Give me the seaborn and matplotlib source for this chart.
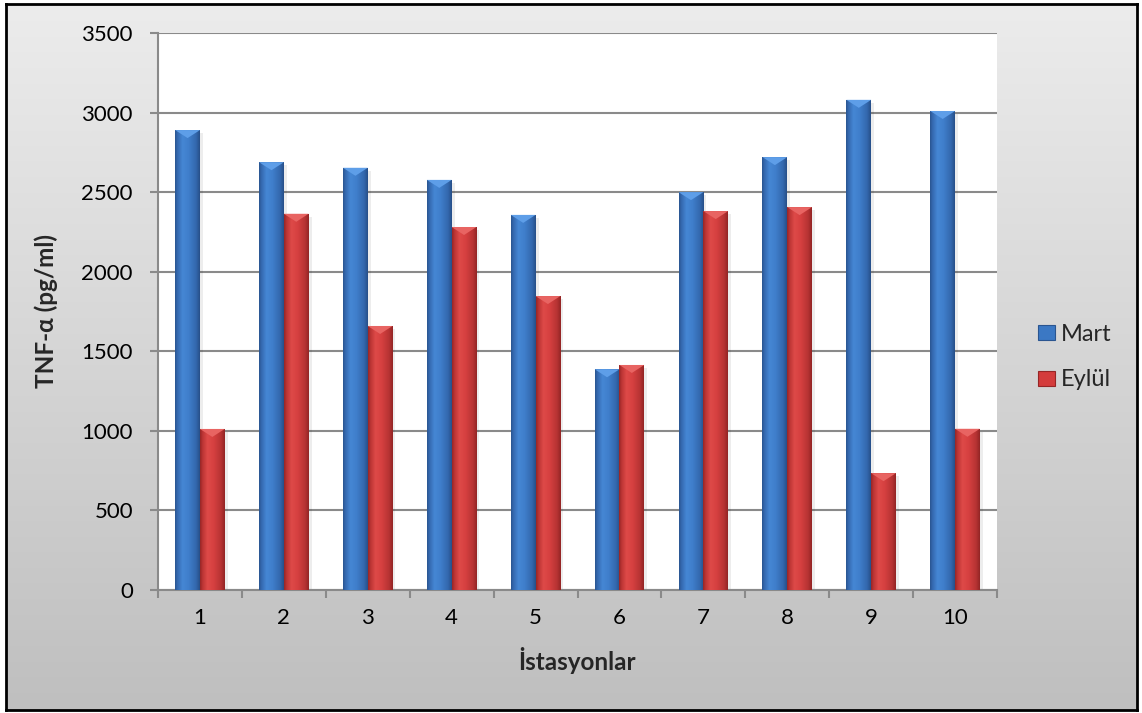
import numpy as np
import pandas as pd
import matplotlib
matplotlib.use("Agg")
import matplotlib.pyplot as plt
from matplotlib.colors import LinearSegmentedColormap
from matplotlib.patches import Polygon, Patch
import seaborn as sns

# TNF-α measurements per station, March vs September
stations = ["1", "2", "3", "4", "5", "6", "7", "8", "9", "10"]
months = ["Mart", "Eylül"]
mart = [2890, 2688, 2653, 2577, 2357, 1387, 2500, 2720, 3080, 3010]
eylul = [1012, 2364, 1659, 2281, 1847, 1414, 2381, 2406, 734, 1013]
y_ticks = [0, 500, 1000, 1500, 2000, 2500, 3000, 3500]

df = pd.DataFrame({
    "İstasyon": stations * 2,
    "Ay": [months[0]] * len(stations) + [months[1]] * len(stations),
    "TNF": mart + eylul,
})

sns.set_theme(style="white")
plt.rcParams["font.family"] = ["Lato", "DejaVu Sans"]

W, H = 1142, 713
fig = plt.figure(figsize=(W / 100, H / 100), dpi=100)
fig.patch.set_facecolor("white")

# Framed chart area with a soft vertical grey gradient
bg = fig.add_axes([6 / W, 1 - 710 / H, (1137 - 6) / W, (710 - 4) / H], zorder=0)
bg_grad = np.linspace(0, 1, 256).reshape(-1, 1)
bg_cmap = LinearSegmentedColormap.from_list("bg", ["#ececec", "#bfbfbf"])
bg.imshow(bg_grad, cmap=bg_cmap, aspect="auto", extent=[0, 1, 0, 1], origin="upper")
bg.set_xticks([]); bg.set_yticks([])
for s in bg.spines.values():
    s.set_color("black"); s.set_linewidth(2)

ax = fig.add_axes([158 / W, 1 - 590 / H, (997 - 158) / W, (590 - 33) / H], zorder=1)
ax.set_facecolor("white")

palette = {"Mart": "#3b78c4", "Eylül": "#d43c3c"}
sns.barplot(data=df, x="İstasyon", y="TNF", hue="Ay", hue_order=months,
            order=stations, palette=palette, width=0.59, linewidth=0,
            legend=False, ax=ax, zorder=3)

cmaps = {
    "Mart": LinearSegmentedColormap.from_list("blue_bar", [
        (0.0, "#2a5590"), (0.1, "#3569b0"), (0.3, "#4587d4"),
        (0.55, "#3f7ecb"), (0.85, "#3367ad"), (1.0, "#274f88")]),
    "Eylül": LinearSegmentedColormap.from_list("red_bar", [
        (0.0, "#962626"), (0.1, "#bb3434"), (0.3, "#de4a48"),
        (0.55, "#d64040"), (0.85, "#b63333"), (1.0, "#922525")]),
}
bevel = {"Mart": "#5e9ee8", "Eylül": "#e86462"}

y_per_px = 3500 / (590 - 33)
grad = np.linspace(0, 1, 128).reshape(1, -1)
for month, container in zip(months, ax.containers):
    for bar in container:
        x0, w, h = bar.get_x(), bar.get_width(), bar.get_height()
        # faint drop shadow to the right
        ax.add_patch(plt.Rectangle((x0 + w, 0), w * 0.12, h - 3 * y_per_px,
                                   facecolor="#000000", alpha=0.07, lw=0, zorder=2.5))
        im = ax.imshow(grad, cmap=cmaps[month], extent=[x0, x0 + w, 0, h],
                       aspect="auto", interpolation="bilinear", zorder=3.1)
        im.set_clip_path(bar)
        depth = 8 * y_per_px
        ax.add_patch(Polygon([(x0, h), (x0 + w, h), (x0 + w / 2, h - depth)],
                             closed=True, facecolor=bevel[month],
                             edgecolor="none", zorder=3.2))

ax.set_xlim(-0.5, len(stations) - 0.5)
ax.set_ylim(y_ticks[0], y_ticks[-1])
ax.set_yticks(y_ticks)
ax.set_yticklabels([str(v) for v in y_ticks])
ax.yaxis.grid(True, color="#8a8a8a", linewidth=1.5, zorder=0)
ax.set_axisbelow(True)

ax.set_xticks(range(len(stations)))
ax.set_xticklabels(stations)
ax.set_xticks(np.arange(-0.5, len(stations), 1.0), minor=True)
ax.tick_params(axis="x", which="major", length=0, pad=13, labelsize=16, colors="black")
ax.tick_params(axis="x", which="minor", length=6, width=1.5, color="#8a8a8a", direction="out", bottom=True)
ax.tick_params(axis="y", which="major", length=6, width=1.5, color="#8a8a8a", pad=12,
               labelsize=16, labelcolor="black", direction="out", left=True)

for side in ["top", "right"]:
    ax.spines[side].set_visible(False)
for side in ["left", "bottom"]:
    ax.spines[side].set_color("#8a8a8a")
    ax.spines[side].set_linewidth(1.5)

ax.set_xlabel("İstasyonlar", fontsize=17.5, fontweight="bold", labelpad=14)
ax.set_ylabel("TNF-α (pg/ml)", fontsize=17.5, fontweight="bold", labelpad=17)

handles = [Patch(facecolor=palette[m], edgecolor=cmaps[m](0.0), linewidth=0.8) for m in months]
fig.legend(handles, months, loc="center left", bbox_to_anchor=(1038 / W, 1 - 357 / H),
           frameon=False, fontsize=17, handlelength=0.72, handleheight=0.6,
           handletextpad=0.25, labelspacing=1.05, borderpad=0, borderaxespad=0)

fig.savefig("out.png", dpi=100)
